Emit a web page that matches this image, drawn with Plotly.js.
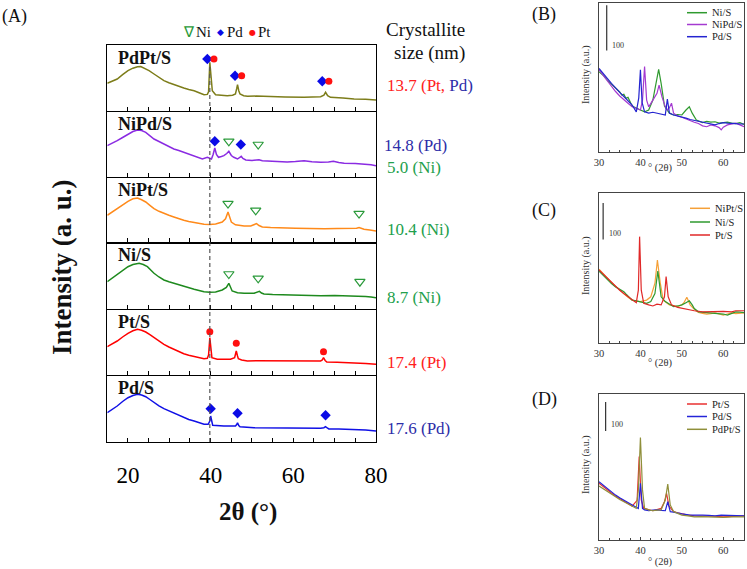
<!DOCTYPE html>
<html><head><meta charset="utf-8">
<script src="https://cdn.plot.ly/plotly-3.0.1.min.js"></script>
<style>html,body{margin:0;padding:0;background:#fff}#chart{width:747px;height:569px}</style>
</head><body><div id="chart"></div>
<script>
// ---------- Panel (A): stacked XRD patterns, [2theta, intensity a.u.] ----------
const pdptMain = [[15,27.4],[16.2,29.5],[17.4,31.7],[18.7,36],[20,40],[21.2,42.5],[22.3,44],[23.1,44.2],[23.9,42.7],[25.1,40],[26.3,36.7],[27.5,33],[28.7,30],[29.9,28],[31.1,26],[32.3,24.3],[33.5,22.7],[34.7,21.2],[36,20],[37.2,18],[38.4,16],[39.2,16.3],[39.5,19],[39.8,48.4],[40.1,33],[40.4,20],[41.2,16],[42.6,15.5],[44,15],[45.3,15.5],[46,16.7],[46.3,22],[46.5,26],[46.8,20],[47.1,16.7],[48,15],[48.9,14.4],[51,14.6],[54.5,14],[58,13.8],[62.6,13.4],[65,13.6],[66.6,14],[67.4,15.5],[67.8,18.4],[68.3,15],[69,13.4],[72,12.8],[74.7,11.7],[77.5,11.4],[80,10.7]];
const nipdMain = [[15,30.8],[16.2,33],[17.4,35.8],[18.7,39],[20,42.5],[21.2,45],[22.3,46.5],[23.3,46],[24.3,44.2],[25.3,41],[26.3,37.5],[27.5,35],[28.7,32.5],[29.9,30],[31.1,27.5],[32.3,26],[33.5,24.2],[34.7,22.5],[36,20.8],[37,19],[38,17.5],[39.2,19.2],[40.2,17.5],[40.6,22],[41.0,28.5],[41.4,22],[41.9,19.2],[42.6,20],[43.2,20.8],[43.9,23],[44.4,25.2],[45,21],[45.6,19.2],[46.5,17.5],[47.1,19],[47.4,20.2],[47.8,18],[48.5,16.5],[50,16],[51.7,16.8],[52.5,15.8],[54.5,15.2],[56.5,14.8],[58.5,14.5],[60.5,15],[62.6,15.8],[64.5,14.8],[66.6,14.2],[68.5,14.5],[69.7,15.2],[71,14],[72.3,13.2],[75,13],[77.1,12.5],[78.8,11.8],[80,10.8]];
const niptMain = [[15,27],[16.2,30.5],[17.4,33.7],[18.7,37.5],[20,41],[21.2,43.5],[22.3,44.3],[23.3,42.5],[24.3,40.3],[25.3,37],[26.3,33.7],[27.5,31],[28.7,28.7],[29.9,27],[31.1,25.3],[32.3,23.5],[33.5,22],[34.7,20.8],[36,19.7],[37.2,18.8],[38.4,18],[39.8,17.7],[41.2,18.3],[42.8,20.3],[43.6,23.5],[44.2,30.3],[44.6,25],[45,20.3],[46,17.5],[47.1,16.5],[48.1,16.3],[49.7,16.3],[50.5,17.3],[51.1,18.7],[51.7,16.8],[52.5,15.3],[54.5,14.8],[56.1,14.3],[58.5,14.2],[60.5,14],[62.6,13.7],[65,13.9],[67.5,13.6],[70.6,13.7],[73,13.5],[75.3,14],[75.9,14.7],[76.5,13.6],[77.1,13],[78.5,12.3],[80,11.3]];
const niMain = [[15,27.3],[16.2,31],[17.4,34.7],[18.7,38.5],[20,42.3],[21.2,44.5],[22.7,45.7],[23.7,44.5],[24.7,42.3],[25.5,39],[26.3,35.7],[27.5,32],[28.7,29],[29.9,27.3],[31.1,25.7],[32.3,24],[33.5,22.3],[34.7,21],[36,19.7],[37.2,18.5],[38.4,17.3],[39.8,16.7],[41.2,17],[42.8,19],[43.8,21.5],[44.4,25.7],[44.8,22],[45.2,18],[46.5,16.3],[48.1,15.7],[50.5,15.7],[51.3,16.8],[51.8,17.7],[52.3,16],[52.9,15],[55,14.5],[58.5,14],[62.6,13.6],[66.6,13.3],[70,13.5],[73,13.2],[76.3,13.3],[77.5,12.6],[78.8,12],[80,11.3]];
const ptMain = [[15,28.3],[16.2,31],[17.4,34],[18.7,38],[20,41.7],[21.2,44.2],[22.3,45.7],[23.3,44.8],[24.3,43],[25.3,40.3],[26.3,37.3],[27.5,34],[28.7,30.7],[29.9,28],[31.1,25.7],[32.3,23.3],[33.5,21.3],[34.7,19.7],[36,18.3],[37.2,17.2],[38.4,16.3],[39.2,16.7],[39.5,20],[39.8,37.3],[40.1,25],[40.3,17.3],[41.6,15.7],[44.8,15.7],[45.8,17.3],[46.2,24],[46.5,19],[46.7,16.3],[47.5,15],[48.9,14],[51,14.2],[54.5,14],[58.5,13.9],[62.6,13.7],[65,13.8],[66.6,14],[67.0,15],[67.3,17.3],[67.7,14.5],[68.1,13],[70.6,12.8],[74.7,12.3],[77.5,11.6],[80,10.7]];
const pdMain = [[15,29.3],[16.2,32.5],[17.4,36],[18.7,40.5],[20,44.3],[21.2,46.5],[22.3,47.7],[23.3,47],[24.3,45.3],[25.3,42.5],[26.3,39.3],[27.5,36.2],[28.7,33.3],[29.9,31],[31.1,28.7],[32.3,26.3],[33.5,24.3],[34.7,22.5],[36,21],[37.2,19.3],[38.4,17.7],[39.4,17.7],[39.8,21],[40.0,26],[40.3,19],[40.5,16.7],[43.2,16],[46,16],[46.3,17.5],[46.5,19.3],[46.8,16.5],[47.1,15.3],[50.5,14.3],[54.5,14],[58.5,13.7],[62.6,13.8],[66.6,13.7],[67.4,14.3],[67.8,15.3],[68.2,14],[68.6,13],[71,13],[74.7,12.7],[77.5,12],[80,11]];

const mainNames = ['PdPt/S','NiPd/S','NiPt/S','Ni/S','Pt/S','Pd/S'];
const sizeTexts = ['13.7 (Pt, <span style="color:#2d2da8">Pd)</span>','14.8 (Pd)','5.0 (Ni)','10.4 (Ni)','8.7 (Ni)','17.4 (Pt)','17.6 (Pd)'];

// reflection markers per panel [2theta, height]
const diamondsPdPt = [[39.2,51.7],[45.9,35],[67.0,29.4]];
const circlesPdPt = [[40.8,51.7],[47.5,35],[68.6,29.4]];
const diamondsNiPd = [[41.0,35.2],[47.3,32]];
const trianglesNiPd = [[44.4,35.2],[51.5,32]];
const trianglesNiPt = [[44.2,38.7],[50.9,32],[75.9,28.7]];
const trianglesNi = [[44.4,35],[51.5,30.7],[76.1,27.3]];
const circlesPt = [[39.8,43.3],[46.2,31.7],[67.3,23.3]];
const diamondsPd = [[40.0,33.3],[46.5,28.7],[67.8,26.7]];

// ---------- Panel (B) ----------
const niB = [[30,178],[31,170],[32,159],[33,150],[34,141],[35,133],[35.5,126],[36,128],[36.5,119],[37,121],[38,102],[39,97],[40,93],[41,89],[42,93],[43,115],[43.8,152],[44.4,183],[45,152],[45.8,102],[47,86],[48,82],[49,83],[50,82],[51,93],[51.8,100],[52.5,86],[53.5,71],[55,65],[56,68],[57,66],[58,67],[59,64],[60,65],[61,66],[62,64],[63,63],[64,65],[65,61]];
const nipdB = [[30,182],[31,170],[32,156],[33,145],[34,134],[35,124],[36,115],[37,108],[38,100],[39,96],[40,93],[40.5,115],[41,189],[41.5,115],[42,100],[43,115],[44,130],[44.5,148],[45.2,122],[46,100],[46.5,93],[47,98],[47.5,108],[48,86],[49,80],[50,77],[51,73],[52,69],[53,66],[54,63],[55,58],[56,56],[57,60],[58,58],[59,54],[59.5,49],[60,55],[61,60],[62,62],[63,64],[64,60],[65,56]];
const pdB = [[30,185],[31,175],[32,163],[33,152],[34,141],[35,132],[36,123],[37,113],[38,104],[39,89],[39.6,120],[40,182],[40.4,110],[41,89],[42,86],[43,88],[44,86],[45,85],[46,82],[46.5,117],[47,86],[48,82],[49,80],[50,77],[51,75],[52,72],[53,70],[54,68],[55,67],[56,65],[57,63],[58,60],[59,63],[60,65],[61,64],[62,64],[63,63],[64,62],[65,62]];
// ---------- Panel (C) ----------
const niptC = [[30,201],[31,188],[32,176],[33,165],[34,155],[35,144],[36,134],[37,125],[38,117],[39,114],[40,113],[41.5,117],[42.5,126],[43.5,163],[44.1,226],[44.8,163],[45.5,117],[47,104],[48,101],[49,99],[50,104],[50.5,110],[51.2,125],[52,104],[53,92],[54,83],[55,81],[56,79],[57,80],[58,82],[59,79],[60,76],[61,79],[62,82],[63,80],[64,82],[65,82]];
const niC = [[30,196],[31,184],[32,172],[33,162],[34,153],[35,147],[35.5,144],[36,140],[36.5,134],[37,128],[38,117],[39,115],[40,113],[41.5,108],[42.5,113],[43.5,135],[44.2,196],[45,126],[46,113],[47,105],[48,99],[49,101],[50,104],[51,110],[51.8,115],[52.5,104],[53,94],[54,85],[56,83],[58,82],[59,80],[60,79],[61,76],[62,80],[63,85],[64,84],[65,83]];
const ptC = [[30,199],[31,188],[32,176],[33,164],[34,153],[35,144],[36,135],[37,126],[38,117],[39,110],[39.5,144],[39.8,290],[40.2,144],[40.8,108],[42,104],[43,101],[44,106],[45,104],[45.8,126],[46.2,181],[46.7,126],[47.5,104],[49,97],[51,92],[53,88],[55,85],[57,86],[58,85],[60,86],[62,85],[63,88],[65,88]];
// ---------- Panel (D) ----------
const ptD = [[30,196],[31,184],[32,173],[33,162],[34,152],[35,144],[36,136],[37,126],[38,117],[39.2,137],[39.7,288],[40.2,138],[40.8,109],[42,104],[43,101],[44,105],[45,109],[45.8,132],[46.3,161],[46.9,117],[48,98],[49,94],[50,90],[51.5,86],[53,83],[55,83],[56,83],[58,82],[60,80],[62,82],[65,83]];
const pdD = [[30,201],[31,189],[32,178],[33,166],[34,155],[35,146],[36,138],[37,129],[38,121],[39,113],[39.5,109],[40.0,196],[40.5,109],[41,104],[42,101],[43,103],[44,104],[45,102],[46,101],[46.6,132],[47.2,98],[48,96],[49,92],[50,90],[52,86],[53.5,87],[55,86],[56.5,85],[58,83],[59.5,86],[61,85],[63,84],[65,83]];
const pdptD = [[30,186],[31,176],[32,167],[33,158],[34,149],[35,140],[36,132],[37,123],[38,115],[39,109],[39.5,173],[40.0,354],[40.5,173],[41,109],[42,104],[43,101],[44,103],[45,104],[46,138],[46.6,193],[47.2,121],[48,98],[49,92],[50,86],[51.5,83],[53,80],[54.5,81],[56,80],[58,79],[60,78],[62,80],[63.5,79],[65,80]];
const scaleBarCounts = 100;

// ---------- styling / layout ----------
const W = 747, H = 569;
const FONT = '"Liberation Serif", "Times New Roman", Times, serif';
const PX = x => x / W, PY = y => 1 - y / H;
const xs = a => a.map(p => p[0]), ys = a => a.map(p => p[1]);

const mainColors = ['#7d7d1a','#8a2be2','#ff8a1a','#1e8a1e','#ff0000','#1010e6'];
const mainData = [pdptMain, nipdMain, niptMain, niMain, ptMain, pdMain];
const panelPx = [[45,110.7],[110.7,176.5],[176.5,242.3],[242.3,309],[309,375],[375,442]];
const mainXDom = [PX(107.3), PX(376)];

const traces = [];
const layout = {
  width: W, height: H, margin: {l:0, r:0, t:0, b:0},
  paper_bgcolor: '#fff', plot_bgcolor: 'rgba(0,0,0,0)', showlegend: false,
  font: {family: FONT, color: '#000'}, annotations: [], shapes: []
};
const xa = n => n === 1 ? 'xaxis' : 'xaxis' + n;
const ya = n => n === 1 ? 'yaxis' : 'yaxis' + n;
const xr = n => n === 1 ? 'x' : 'x' + n;
const yr = n => n === 1 ? 'y' : 'y' + n;

mainData.forEach((d, i) => {
  const n = i + 1, top = panelPx[i][0], bot = panelPx[i][1];
  layout[xa(n)] = {
    domain: mainXDom, range: [15, 80], anchor: yr(n),
    showline: true, mirror: n === 1, linecolor: '#000', linewidth: 1.4,
    ticks: 'inside', ticklen: 4, tickwidth: 1, tickcolor: '#000', tick0: 0, dtick: 20,
    minor: {dtick: 5, ticks: 'inside', ticklen: 4, tickwidth: 1, tickcolor: '#000'},
    showgrid: false, zeroline: false, showticklabels: n === 6,
    tickfont: {family: FONT, size: 23, color: '#000'}, ticklabelstandoff: 12
  };
  layout[ya(n)] = {
    domain: [PY(bot), PY(top)], range: [0, bot - top], anchor: xr(n),
    showline: true, mirror: true, linecolor: '#000', linewidth: 1.4,
    ticks: '', showticklabels: false, showgrid: false, zeroline: false
  };
  traces.push({x: xs(d), y: ys(d), xaxis: xr(n), yaxis: yr(n), mode: 'lines',
    line: {color: mainColors[i], width: 1.5}, hoverinfo: 'skip'});
  layout.annotations.push({xref:'paper', yref:'paper', x: PX(115.5), y: PY(top + 13),
    xanchor:'left', yanchor:'middle', showarrow:false, text:'<b>' + mainNames[i] + '</b>',
    font:{family: FONT, size: 18, color:'#111'}});
});

function markers(arr, n, symbol, color, size, open) {
  traces.push({x: xs(arr), y: ys(arr), xaxis: xr(n), yaxis: yr(n), mode: 'markers', hoverinfo:'skip',
    marker: {symbol: symbol, size: size, color: color, line: {color: color, width: open ? 1.2 : 0}}});
}
const DBLUE = '#0a0ae6', DRED = '#ff1010', DGREEN = '#2a9a3a';
markers(diamondsPdPt, 1, 'diamond', DBLUE, 8);
markers(circlesPdPt, 1, 'circle', DRED, 7);
markers(diamondsNiPd, 2, 'diamond', DBLUE, 8);
markers(trianglesNiPd, 2, 'triangle-down-open', DGREEN, 9, true);
markers(trianglesNiPt, 3, 'triangle-down-open', DGREEN, 9, true);
markers(trianglesNi, 4, 'triangle-down-open', DGREEN, 9, true);
markers(circlesPt, 5, 'circle', DRED, 7);
markers(diamondsPd, 6, 'diamond', DBLUE, 8);

// dashed reference line at 2theta = 39.8
layout.shapes.push({type:'line', xref:'x6', yref:'paper', x0: 39.8, x1: 39.8, y0: PY(442), y1: PY(64),
  line: {color:'#555', width: 1.2, dash: '4px,3px'}});

// ---------- small panels ----------
const smallXDom = [PX(599), PX(744)];
const smallPanels = [
  {n: 7, px: [3, 152], ymax: 330, bar: [31.86, 225], lbl: 'B', ylab: 75, xlab: 168, tag: 14,
   series: [[niB,'#2f9a2f','Ni/S'],[nipdB,'#a43ad0','NiPd/S'],[pdB,'#2424d0','Pd/S']],
   leg: {x0: 687, x1: 707, tx: 710, ys: [12.7, 24.5, 36.7]}, barTxt: [610, 46]},
  {n: 8, px: [193, 343], ymax: 409, bar: [31.0, 282], lbl: 'C', ylab: 266, xlab: 363, tag: 210,
   series: [[niptC,'#f5a038','NiPt/S'],[niC,'#2f9a2f','Ni/S'],[ptC,'#e02828','Pt/S']],
   leg: {x0: 690, x1: 710, tx: 713, ys: [208.3, 222, 235]}, barTxt: [607, 233]},
  {n: 9, px: [394, 540], ymax: 504, bar: [31.6, 376], lbl: 'D', ylab: 465, xlab: 562, tag: 399,
   series: [[ptD,'#e83030','Pt/S'],[pdD,'#2424d8','Pd/S'],[pdptD,'#8f8f3a','PdPt/S']],
   leg: {x0: 687, x1: 707, tx: 710, ys: [404, 416.5, 429.3]}, barTxt: [608.5, 424]}
];
smallPanels.forEach(p => {
  const n = p.n;
  layout[xa(n)] = {
    domain: smallXDom, range: [30, 65], anchor: yr(n),
    showline: true, mirror: true, linecolor: '#444', linewidth: 1,
    ticks: 'inside', ticklen: 3, tickwidth: 1, tickcolor: '#444', tick0: 0, dtick: 10,
    minor: {dtick: 2.5, ticks: 'inside', ticklen: 2, tickcolor: '#444'},
    showgrid: false, zeroline: false, tickfont: {family: FONT, size: 10.5, color: '#333'}
  };
  layout[ya(n)] = {
    domain: [PY(p.px[1]), PY(p.px[0])], range: [0, p.ymax], anchor: xr(n),
    showline: true, mirror: true, linecolor: '#444', linewidth: 1,
    ticks: '', showticklabels: false, showgrid: false, zeroline: false
  };
  p.series.forEach((s, k) => {
    traces.push({x: xs(s[0]), y: ys(s[0]), xaxis: xr(n), yaxis: yr(n), mode: 'lines',
      line: {color: s[1], width: 1.2}, hoverinfo: 'skip'});
    layout.shapes.push({type:'line', xref:'paper', yref:'paper', x0: PX(p.leg.x0), x1: PX(p.leg.x1),
      y0: PY(p.leg.ys[k]), y1: PY(p.leg.ys[k]), line: {color: s[1], width: 1.5}});
    layout.annotations.push({xref:'paper', yref:'paper', x: PX(p.leg.tx), y: PY(p.leg.ys[k]),
      xanchor:'left', yanchor:'middle', showarrow:false, text: s[2],
      font:{family: FONT, size: 10.5, color:'#222'}});
  });
  // scale bar
  layout.shapes.push({type:'line', xref: xr(n), yref: yr(n), x0: p.bar[0], x1: p.bar[0],
    y0: p.bar[1], y1: p.bar[1] + scaleBarCounts, line: {color:'#333', width: 1.2}});
  layout.annotations.push({xref:'paper', yref:'paper', x: PX(p.barTxt[0]), y: PY(p.barTxt[1]),
    xanchor:'left', yanchor:'middle', showarrow:false, text: String(scaleBarCounts),
    font:{family: FONT, size: 8, color:'#333'}});
  layout.annotations.push({xref:'paper', yref:'paper', x: PX(586), y: PY(p.ylab),
    xanchor:'center', yanchor:'middle', showarrow:false, textangle: -90, text: 'Intensity (a.u.)',
    font:{family: FONT, size: 10, color:'#333'}});
  layout.annotations.push({xref:'paper', yref:'paper', x: PX(660), y: PY(p.xlab),
    xanchor:'center', yanchor:'middle', showarrow:false, text: '° (2θ)',
    font:{family: FONT, size: 10.5, color:'#333'}});
  layout.annotations.push({xref:'paper', yref:'paper', x: PX(544), y: PY(p.tag),
    xanchor:'center', yanchor:'middle', showarrow:false, text: '(' + p.lbl + ')',
    font:{family: FONT, size: 18, color:'#111'}});
});

// ---------- text for panel (A) ----------
const A = (text, x, y, o) => layout.annotations.push(Object.assign({xref:'paper', yref:'paper',
  x: PX(x), y: PY(y), showarrow:false, xanchor:'left', yanchor:'middle', text: text,
  font:{family: FONT, size: 17, color:'#111'}}, o || {}));
A('(A)', 14.5, 16, {xanchor:'center', font:{family: FONT, size: 18, color:'#111'}});
A('∇', 189, 32, {xanchor:'center', font:{family: FONT, size: 15, color: DGREEN}});
A('Ni', 194, 32, {font:{family: FONT, size: 15, color:'#111'}});
A('◆', 220.5, 32, {xanchor:'center', font:{family: 'DejaVu Sans', size: 9, color: DBLUE}});
A('Pd', 224.5, 32, {font:{family: FONT, size: 15, color:'#111'}});
A('●', 252.5, 32, {xanchor:'center', font:{family: 'DejaVu Sans', size: 8, color: DRED}});
A('Pt', 255.5, 32, {font:{family: FONT, size: 15, color:'#111'}});
A('Crystallite', 425, 30, {xanchor:'center', font:{family: FONT, size: 19, color:'#111'}});
A('size (nm)', 429, 53, {xanchor:'center', font:{family: FONT, size: 19, color:'#111'}});
const sizePos = [[385,85,'#ff2020'],[382,146,'#2d2da8'],[385,167,'#22a04c'],[385,230,'#22a04c'],[385,297,'#22a04c'],[385,362,'#ff2020'],[385,428,'#2d2da8']];
sizeTexts.forEach((t, i) => A(t, sizePos[i][0], sizePos[i][1], {font:{family: FONT, size: 17, color: sizePos[i][2]}}));
A('<b>Intensity (a. u.)</b>', 62, 267, {xanchor:'center', textangle: -90, font:{family: FONT, size: 27, color:'#111'}});
A('<b>2θ (°)</b>', 248, 512, {xanchor:'center', font:{family: FONT, size: 25, color:'#111'}});

Plotly.newPlot('chart', traces, layout, {staticPlot: true, displayModeBar: false});
</script></body></html>
